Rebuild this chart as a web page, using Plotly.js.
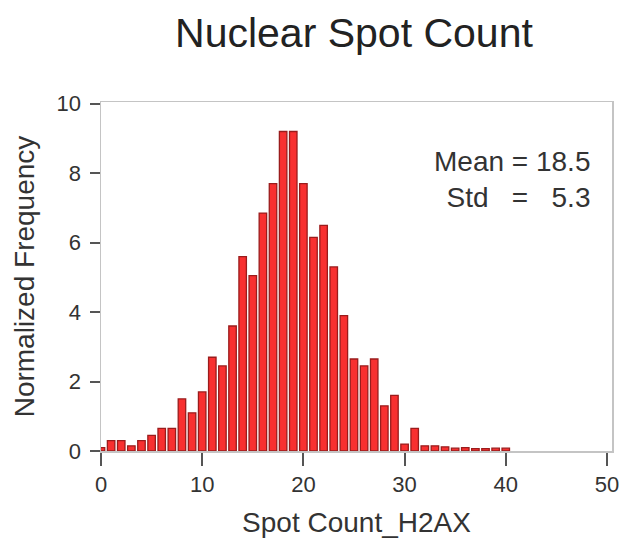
<!DOCTYPE html>
<html>
<head>
<meta charset="utf-8">
<script src="https://cdn.plot.ly/plotly-3.0.1.min.js"></script>
<style>
  html, body { margin: 0; padding: 0; background: #fff; }
  #chart { width: 621px; height: 539px; }
</style>
</head>
<body>
<div id="chart"></div>
<script>
// Histogram of nuclear spot counts (H2AX), one bin per integer count
const spotCount = [0, 1, 2, 3, 4, 5, 6, 7, 8, 9, 10, 11, 12, 13, 14, 15, 16, 17, 18, 19, 20,
                   21, 22, 23, 24, 25, 26, 27, 28, 29, 30, 31, 32, 33, 34, 35, 36, 37, 38, 39, 40];
const normFreq  = [0.1, 0.3, 0.3, 0.15, 0.3, 0.45, 0.65, 0.65, 1.5, 1.1, 1.7, 2.7, 2.45, 3.6, 5.6, 5.05, 6.85, 7.7, 9.2, 9.2, 7.7,
                   6.15, 6.5, 5.3, 3.9, 2.65, 2.45, 2.65, 1.3, 1.6, 0.2, 0.65, 0.15, 0.15, 0.12, 0.08, 0.1, 0.07, 0.07, 0.08, 0.08];
const xTicks = [0, 10, 20, 30, 40, 50];
const yTicks = [0, 2, 4, 6, 8, 10];
const meanValue = "18.5";
const stdValue = "5.3";

const font = "Liberation Sans, Arial, Helvetica, sans-serif";
const textColor = "#333333";

const trace = {
  type: "bar",
  x: spotCount,
  y: normFreq,
  width: 0.74,
  marker: {
    color: "#f83030",
    line: { color: "#9a1c1c", width: 1.3 }
  },
  hoverinfo: "x+y"
};

const layout = {
  width: 621,
  height: 539,
  paper_bgcolor: "#ffffff",
  plot_bgcolor: "#ffffff",
  margin: { l: 101, r: 9, t: 102, b: 88 },
  showlegend: false,
  bargap: 0,
  font: { family: font, color: textColor },
  title: {
    text: "Nuclear Spot Count",
    font: { family: font, size: 41, color: "#222222" },
    xref: "paper", x: 0.495, xanchor: "center",
    yref: "container", y: 0.94, yanchor: "middle"
  },
  xaxis: {
    range: [0, 50.5],
    tickvals: xTicks,
    ticktext: xTicks.map(String),
    ticks: "outside",
    ticklen: 13,
    tickwidth: 2,
    tickcolor: "#555555",
    showline: true,
    linecolor: "#c4c4c4",
    linewidth: 1.5,
    mirror: true,
    showgrid: false,
    zeroline: false,
    tickfont: { family: font, size: 22, color: textColor },
    title: {
      text: "Spot Count_H2AX",
      font: { family: font, size: 28, color: textColor },
      standoff: 16
    }
  },
  yaxis: {
    range: [0, 10.05],
    tickvals: yTicks,
    ticktext: yTicks.map(String),
    ticks: "outside",
    ticklen: 10,
    tickwidth: 2,
    tickcolor: "#555555",
    ticklabelstandoff: 4,
    showline: true,
    linecolor: "#c4c4c4",
    linewidth: 1.5,
    mirror: true,
    showgrid: false,
    zeroline: false,
    tickfont: { family: font, size: 22, color: textColor },
    title: {
      text: "Normalized Frequency",
      font: { family: font, size: 28, color: textColor },
      standoff: 14
    }
  },
  annotations: [{
    xref: "paper", yref: "paper",
    x: 0.96, y: 0.88,
    xanchor: "right", yanchor: "top",
    align: "right",
    showarrow: false,
    text: "Mean = " + meanValue + "<br>Std\u00a0\u00a0\u00a0=\u00a0\u00a0\u00a0" + stdValue,
    font: { family: font, size: 28, color: textColor }
  }]
};

Plotly.newPlot("chart", [trace], layout, { staticPlot: true, displayModeBar: false });
</script>
</body>
</html>
